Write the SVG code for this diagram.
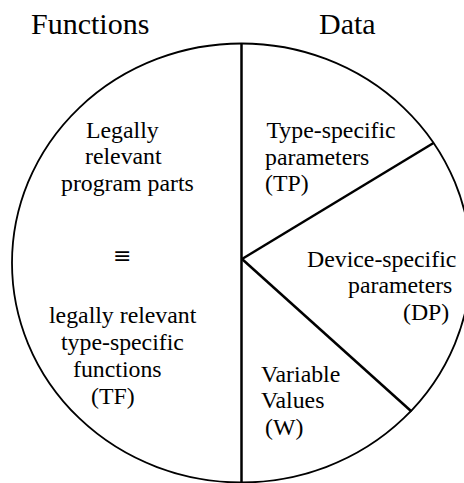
<svg xmlns="http://www.w3.org/2000/svg" width="464" height="483" viewBox="0 0 464 483">
<rect width="464" height="483" fill="#fff"/>
<g id="titles">
<text style="font-family:'Liberation Serif','Times New Roman',Tinos,serif;font-size:30px" x="31" y="33.5">Functions</text>
<text style="font-family:'Liberation Serif','Times New Roman',Tinos,serif;font-size:30px" x="319" y="33.5">Data</text>
</g>
<g id="pie">
<ellipse cx="241.5" cy="263" rx="229.5" ry="219.5" fill="none" stroke="#000" stroke-width="1.8"/>
</g>
<g id="connectors" stroke="#000" stroke-width="2.5" fill="none">
<line x1="241.5" y1="44" x2="241.5" y2="483"/>
<line x1="242" y1="259" x2="433.5" y2="143"/>
<line x1="242" y1="259" x2="411.5" y2="411.5"/>
</g>
<g id="functions">
<text style="font-family:'Liberation Serif','Times New Roman',Tinos,serif;font-size:23.8px" x="86" y="137.5">Legally</text>
<text style="font-family:'Liberation Serif','Times New Roman',Tinos,serif;font-size:23.8px" x="85" y="164.3">relevant</text>
<text style="font-family:'Liberation Serif','Times New Roman',Tinos,serif;font-size:23.8px" x="61" y="191">program parts</text>
<text style="font-family:'DejaVu Serif',serif;font-size:22px" x="113" y="263">&#8801;</text>
<text style="font-family:'Liberation Serif','Times New Roman',Tinos,serif;font-size:23.8px" x="49" y="323">legally relevant</text>
<text style="font-family:'Liberation Serif','Times New Roman',Tinos,serif;font-size:23.8px" x="61" y="350">type-specific</text>
<text style="font-family:'Liberation Serif','Times New Roman',Tinos,serif;font-size:23.8px" x="73" y="377">functions</text>
<text style="font-family:'Liberation Serif','Times New Roman',Tinos,serif;font-size:23.8px" x="91" y="404">(TF)</text>
</g>
<g id="tp">
<text style="font-family:'Liberation Serif','Times New Roman',Tinos,serif;font-size:23.8px" x="266.5" y="138.3">Type-specific</text>
<text style="font-family:'Liberation Serif','Times New Roman',Tinos,serif;font-size:23.8px" x="265" y="164.5">parameters</text>
<text style="font-family:'Liberation Serif','Times New Roman',Tinos,serif;font-size:23.8px" x="265" y="191">(TP)</text>
</g>
<g id="dp">
<text style="font-family:'Liberation Serif','Times New Roman',Tinos,serif;font-size:23.8px" x="307" y="266.7">Device-specific</text>
<text style="font-family:'Liberation Serif','Times New Roman',Tinos,serif;font-size:23.8px" x="348" y="293.3">parameters</text>
<text style="font-family:'Liberation Serif','Times New Roman',Tinos,serif;font-size:23.8px" x="403" y="320">(DP)</text>
</g>
<g id="w">
<text style="font-family:'Liberation Serif','Times New Roman',Tinos,serif;font-size:23.8px" x="261" y="381.7">Variable</text>
<text style="font-family:'Liberation Serif','Times New Roman',Tinos,serif;font-size:23.8px" x="261" y="408.3">Values</text>
<text style="font-family:'Liberation Serif','Times New Roman',Tinos,serif;font-size:23.8px" x="265" y="435">(W)</text>
</g>
</svg>
